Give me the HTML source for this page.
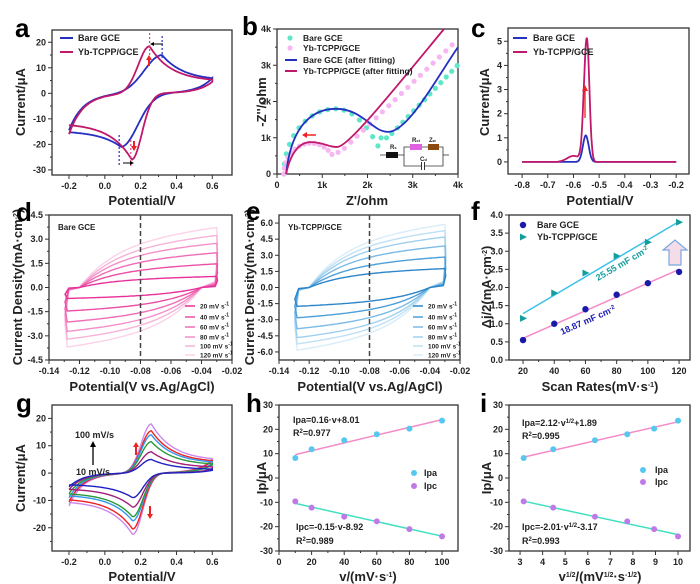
<!DOCTYPE html>
<html><head><meta charset="utf-8"><style>
body{margin:0;background:#fff;}
svg{display:block;font-family:"Liberation Sans",sans-serif;font-weight:bold;}
</style></head><body>
<svg id="s" width="700" height="584" viewBox="0 0 700 584" xmlns="http://www.w3.org/2000/svg"></svg>
<script>
const S=document.getElementById('s');let H='';
function P(b,xr,yr){return{b,X:v=>b[0]+(v-xr[0])/(xr[1]-xr[0])*(b[2]-b[0]),Y:v=>b[3]-(v-yr[0])/(yr[1]-yr[0])*(b[3]-b[1])};}
function T(x,y,t,o){o=o||{};let s=o.s||10;if(s===12)s=13;H+=`<text x="${x}" y="${y}" font-size="${s}" fill="${o.c||'#222'}" text-anchor="${o.a||'start'}" ${o.r?`transform="rotate(${o.r} ${x} ${y})"`:''}>${t}</text>`;}
function axes(p,xt,yt,xl,yl,xmin,ymin){const b=p.b;
 H+=`<rect x="${b[0]}" y="${b[1]}" width="${b[2]-b[0]}" height="${b[3]-b[1]}" fill="none" stroke="#333" stroke-width="1.3"/>`;
 xt.forEach((v,i)=>{const x=p.X(v);H+=`<line x1="${x}" y1="${b[3]}" x2="${x}" y2="${b[3]+4}" stroke="#333"/>`;T(x,b[3]+14,xl[i],{a:'middle',s:9});});
 yt.forEach((v,i)=>{const y=p.Y(v);H+=`<line x1="${b[0]}" y1="${y}" x2="${b[0]-4}" y2="${y}" stroke="#333"/>`;T(b[0]-6,y+3,yl[i],{a:'end',s:9});});
 (xmin||[]).forEach(v=>{const x=p.X(v);H+=`<line x1="${x}" y1="${b[3]}" x2="${x}" y2="${b[3]+2}" stroke="#333"/>`;});
 (ymin||[]).forEach(v=>{const y=p.Y(v);H+=`<line x1="${b[0]}" y1="${y}" x2="${b[0]-2}" y2="${y}" stroke="#333"/>`;});
}
function path(p,pts,c,w,extra){H+=`<path d="M${pts.map(q=>p.X(q[0]).toFixed(1)+','+p.Y(q[1]).toFixed(1)).join('L')}" fill="none" stroke="${c}" stroke-width="${w||1.6}" ${extra||''}/>`;}
function rng(a,b,n){const r=[];for(let i=0;i<=n;i++)r.push(a+(b-a)*i/n);return r;}
function g1(E,Ep,w1,w2,pl){return E<Ep?Math.exp(-(((E-Ep)/w1)**2)):pl+(1-pl)*Math.exp(-(E-Ep)/w2);}
function g2(E,Ep,w1,w2,pl){return E>Ep?Math.exp(-(((E-Ep)/w1)**2)):pl+(1-pl)*Math.exp(-(Ep-E)/w2);}
function cv(p,c,st,ip,Epa,wa,pa,en,iq,Epc,wc,pc,w){
 const f=rng(-0.2,0.6,120).map(E=>[E,st*Math.exp(-(E+0.2)/0.08)+ip*g1(E,Epa,wa,0.12,pa)]);
 const r=rng(0.6,-0.2,120).map(E=>[E,en*Math.exp(-(0.6-E)/0.08)-iq*g2(E,Epc,wc,0.12,pc)]);
 path(p,f.concat(r),c,w||1.8);
}
// ---------- a
let pa=P([52,30,232,175],[-0.295,0.71],[-32,24.8]);
axes(pa,[-0.2,0,0.2,0.4,0.6],[-30,-20,-10,0,10,20],['-0.2','0.0','0.2','0.4','0.6'],['-30','-20','-10','0','10','20'],[-0.1,0.1,0.3,0.5],[-25,-15,-5,5,15]);
cv(pa,'#2530c0',-14.5,15,0.32,0.14,0.33,6,21,0.09,0.13,0.7);
cv(pa,'#c0186a',-16,18.5,0.25,0.09,0.25,4.5,26,0.15,0.08,0.45);
[[0.32,'#2530c0',36,60],[0.25,'#e0408a',33,60],[0.08,'#2530c0',135,167],[0.145,'#e0408a',140,167]].forEach(q=>{const x=pa.X(q[0]);H+=`<line x1="${x}" y1="${q[2]}" x2="${x}" y2="${q[3]}" stroke="${q[1]}" stroke-dasharray="2,2" stroke-width="1.2"/>`;});
H+=`<line x1="163" y1="44" x2="152" y2="44" stroke="#000"/><path d="M150,44l4,-2v4z"/><line x1="123" y1="163" x2="132" y2="163" stroke="#000"/><path d="M134,163l-4,-2v4z"/>`;
H+=`<line x1="149" y1="66" x2="149" y2="58" stroke="#e22" stroke-width="2"/><path d="M149,55l-3,5h6z" fill="#e22"/><line x1="134" y1="141" x2="134" y2="147" stroke="#e22" stroke-width="2"/><path d="M134,151l-3,-5h6z" fill="#e22"/>`;
H+=`<line x1="60" y1="38" x2="73" y2="38" stroke="#2530c0" stroke-width="2"/><line x1="60" y1="52" x2="73" y2="52" stroke="#c0186a" stroke-width="2"/>`;
T(78,41,'Bare GCE',{s:9});T(78,55,'Yb-TCPP/GCE',{s:9});
T(142,205,'Potential/V',{a:'middle',s:12});T(25,102,'Current/μA',{a:'middle',s:12,r:-90});T(15,37,'a',{s:26,c:'#000'});
// ---------- b
let pb=P([277,29,458,174],[0,4],[0,4]);
axes(pb,[0,1,2,3,4],[0,1,2,3,4],['0','1k','2k','3k','4k'],['0','1k','2k','3k','4k'],[0.5,1.5,2.5,3.5],[0.5,1.5,2.5,3.5]);
function bez(p,d,c,w){H+=`<path d="${d.replace(/(-?[\d.]+),(-?[\d.]+)/g,(m,a,b)=>p.X(+a).toFixed(1)+','+p.Y(+b).toFixed(1))}" fill="none" stroke="${c}" stroke-width="${w}"/>`;}
function dots(p,pts,c){pts.forEach(q=>{H+=`<circle cx="${p.X(q[0]).toFixed(1)}" cy="${p.Y(q[1]).toFixed(1)}" r="2.6" fill="${c}"/>`;});}
let cy=[],pk=[];
for(let t=0;t<=1.0001;t+=0.05){const a=Math.PI*t;cy.push([1.3-1.15*Math.cos(a),1.8*Math.sin(a)*(t<0.5?1:0.35+0.65*Math.sin(a))]);}
cy=cy.filter(q=>q[0]<2.3);
for(let x=2.3;x<=4.01;x+=0.12)cy.push([x,1.0+Math.max(0,x-2.45)*1.3]);
dots(pb,cy,'#5fe8c8');
for(let t=0;t<=1.0001;t+=0.06){const a=Math.PI*t;pk.push([0.75-0.6*Math.cos(a),0.85*Math.sin(a)]);}
pk=pk.filter(q=>q[0]<1.25);
for(let x=1.35;x<=4.01;x+=0.14)pk.push([x,0.6+Math.max(0,x-1.4)*1.2]);
dots(pb,pk,'#f6b6f2');
bez(pb,'M0.2,0 C0.3,1.2 0.7,1.8 1.3,1.8 C1.9,1.8 2.1,1.16 2.45,1.16 C2.9,1.16 3.5,2.6 4,3.5','#2530c0',1.8);
bez(pb,'M0.2,0 C0.3,0.6 0.5,0.88 0.75,0.88 C1.05,0.88 1.15,0.72 1.35,0.75 C1.6,0.8 2.5,2.2 3.69,4','#c0186a',1.8);
H+=`<line x1="316" y1="135" x2="306" y2="135" stroke="#e22" stroke-width="1.5"/><path d="M302,135l5,-3v6z" fill="#e22"/>`;
H+=`<circle cx="290" cy="38" r="2.6" fill="#5fe8c8"/><circle cx="290" cy="48" r="2.6" fill="#f6b6f2"/>`;
H+=`<line x1="285" y1="60" x2="297" y2="60" stroke="#2530c0" stroke-width="2"/><line x1="285" y1="71" x2="297" y2="71" stroke="#c0186a" stroke-width="2"/>`;
T(303,41,'Bare GCE',{s:8.5});T(303,51,'Yb-TCPP/GCE',{s:8.5});T(303,63,'Bare GCE (after fitting)',{s:8.5});T(303,74,'Yb-TCPP/GCE (after fitting)',{s:8.5});
H+=`<g stroke="#333" stroke-width="0.8" fill="none"><line x1="380" y1="155" x2="404" y2="155"/><line x1="443" y1="155" x2="449" y2="155"/><polyline points="404,155 404,147 443,147 443,155 443,166 404,166 404,155"/></g>
<rect x="386" y="152" width="12" height="6" fill="#111"/><rect x="410" y="144" width="12" height="6" fill="#e060e0"/><rect x="428" y="144" width="11" height="6" fill="#8a4a10"/>
<rect x="421" y="162" width="4" height="8" fill="#fff"/><line x1="421.5" y1="162" x2="421.5" y2="170" stroke="#333"/><line x1="424.5" y1="162" x2="424.5" y2="170" stroke="#333"/>`;
T(390,149,'R<tspan font-size="4">s</tspan>',{s:6});T(412,142,'R<tspan font-size="4">ct</tspan>',{s:6});T(429,142,'Z<tspan font-size="4">w</tspan>',{s:6});T(420,161,'C<tspan font-size="4">d</tspan>',{s:6});
T(367,205,"Z'/ohm",{a:'middle',s:12});T(266,102,"-Z''/ohm",{a:'middle',s:12,r:-90});T(242,35,'b',{s:26,c:'#000'});
// ---------- c
let pc=P([508,28,689,174],[-0.855,-0.15],[-0.5,5.55]);
axes(pc,rng(-0.8,-0.2,6),[0,1,2,3,4,5],['-0.8','-0.7','-0.6','-0.5','-0.4','-0.3','-0.2'],['0','1','2','3','4','5'],[],[0.5,1.5,2.5,3.5,4.5]);
path(pc,rng(-0.8,-0.2,300).map(E=>[E,1.1*Math.exp(-(((E+0.552)/0.016)**2))]),'#2530c0',1.8);
path(pc,rng(-0.8,-0.2,300).map(E=>[E,5.15*Math.exp(-(((E+0.548)/(E<-0.548?0.016:0.014))**2))+(E>-0.66&&E<-0.55?0.25*Math.exp(-(((E+0.6)/0.035)**2)):0)]),'#c0186a',1.8);
H+=`<line x1="585" y1="118" x2="585" y2="90" stroke="#e22" stroke-width="1.3"/><path d="M585,85l-3,6h6z" fill="#e22"/>`;
H+=`<line x1="513" y1="38" x2="527" y2="38" stroke="#2530c0" stroke-width="2"/><line x1="513" y1="52" x2="527" y2="52" stroke="#c0186a" stroke-width="2"/>`;
T(533,41,'Bare GCE',{s:9});T(533,55,'Yb-TCPP/GCE',{s:9});
T(600,205,'Potential/V',{a:'middle',s:12});T(489,102,'Current/μA',{a:'middle',s:12,r:-90});T(471,37,'c',{s:26,c:'#000'});
// ---------- d / e
function hh(x){return 0.75*(1-Math.exp(-(x+0.12)/0.025))+0.25*(x+0.12)/0.09;}
function loop(p,T0,c,w){const up=rng(-0.12,-0.03,60).map(x=>[x,T0*hh(x)]);
 const dn=rng(-0.04,-0.128,60).map(x=>[x,-T0*hh(-0.16-x)]);
 const pts=[[-0.12,0]].concat(up,[[-0.0295,T0*0.6],[-0.031,T0*0.1]],dn,[[-0.1295,-T0*0.6],[-0.127,-T0*0.05],[-0.12,0]]);
 path(p,pts,c,w||1.4);}
let pd=P([49,215,232,360],[-0.14,-0.02],[-4.5,4.5]);
axes(pd,rng(-0.14,-0.02,6),rng(-4.5,4.5,6),['-0.14','-0.12','-0.10','-0.08','-0.06','-0.04','-0.02'],['-4.5','-3.0','-1.5','0.0','1.5','3.0','4.5'],rng(-0.13,-0.03,5),rng(-3.75,3.75,5));
const pcol=['#fbd2e8','#f7b3d8','#f38fc8','#ef6cb6','#eb4ea6','#e8309a'],Tv=[3.8,3.3,2.8,2.2,1.5,0.7];
Tv.forEach((t,i)=>loop(pd,t,pcol[i]));
H+=`<line x1="${pd.X(-0.08)}" y1="215" x2="${pd.X(-0.08)}" y2="360" stroke="#444" stroke-width="1.5" stroke-dasharray="5,3"/>`;
T(58,230,'Bare GCE',{s:8});
const ly=[306,317,327,337,346,355],lt=['20','40','60','80','100','120'].map(s=>s+' mV s<tspan dy="-3" font-size="5">-1</tspan>');
ly.forEach((y,i)=>{H+=`<line x1="185" y1="${y}" x2="195" y2="${y}" stroke="${pcol[5-i]}" stroke-width="1.5"/>`;T(200,y+2.5,lt[i],{s:6.5});});
T(142,391,'Potential(V vs.Ag/AgCl)',{a:'middle',s:12});T(22,287,'Current Density(mA·cm<tspan dy="-4" font-size="7">-2</tspan><tspan dy="4">)</tspan>',{a:'middle',s:12,r:-90});T(16,221,'d',{s:26,c:'#000'});
let pe=P([279,215,460,360],[-0.14,-0.02],[-6.75,6.75]);
axes(pe,rng(-0.14,-0.02,6),rng(-6,6,8),['-0.14','-0.12','-0.10','-0.08','-0.06','-0.04','-0.02'],['-6.0','-4.5','-3.0','-1.5','0.0','1.5','3.0','4.5','6.0'],rng(-0.13,-0.03,5),[]);
const bcol=['#d8edf9','#bfe0f5','#a0d0ef','#7bbbe6','#4d9fd9','#2a85c9'],Te=[6.0,5.4,4.8,3.95,2.9,1.8];
Te.forEach((t,i)=>loop(pe,t,bcol[i]));
H+=`<line x1="${pe.X(-0.08)}" y1="215" x2="${pe.X(-0.08)}" y2="360" stroke="#444" stroke-width="1.5" stroke-dasharray="5,3"/>`;
T(288,230,'Yb-TCPP/GCE',{s:8});
ly.forEach((y,i)=>{H+=`<line x1="413" y1="${y}" x2="423" y2="${y}" stroke="${bcol[5-i]}" stroke-width="1.5"/>`;T(428,y+2.5,lt[i],{s:6.5});});
T(370,391,'Potential(V vs.Ag/AgCl)',{a:'middle',s:12});T(254,287,'Current Density(mA·cm<tspan dy="-4" font-size="7">-2</tspan><tspan dy="4">)</tspan>',{a:'middle',s:12,r:-90});T(246,220,'e',{s:26,c:'#000'});
// ---------- f
let pf=P([509,215,690,360],[11,127],[0,4]);
axes(pf,[20,40,60,80,100,120],rng(0,4,8),['20','40','60','80','100','120'],['0.0','0.5','1.0','1.5','2.0','2.5','3.0','3.5','4.0'],[30,50,70,90,110],[]);
path(pf,[[20,0.6],[120,2.5]],'#f58ac8',1.5);path(pf,[[20,1.28],[120,3.82]],'#3cc0ea',1.5);
[[20,0.55],[40,1.0],[60,1.4],[80,1.8],[100,2.12],[120,2.43]].forEach(q=>H+=`<circle cx="${pf.X(q[0])}" cy="${pf.Y(q[1])}" r="3.2" fill="#1a1aa8"/>`);
[[20,1.15],[40,1.85],[60,2.4],[80,2.87],[100,3.25],[120,3.8]].forEach(q=>{const x=pf.X(q[0]),y=pf.Y(q[1]);H+=`<path d="M${x-3},${y-3.5}L${x+4},${y}L${x-3},${y+3.5}z" fill="#139e9e"/>`;});
H+=`<circle cx="523" cy="225" r="3.2" fill="#1a1aa8"/><path d="M520,233.5L527,237L520,240.5z" fill="#139e9e"/>`;
T(537,228,'Bare GCE',{s:9});T(537,240,'Yb-TCPP/GCE',{s:9});
T(598,281,'25.55 mF cm<tspan dy="-3" font-size="6">-2</tspan>',{s:9,c:'#139e9e',r:-30});T(562,335,'18.87 mF cm<tspan dy="-3" font-size="6">-2</tspan>',{s:9,c:'#2020b0',r:-24});
H+=`<path d="M669,265V250H663L675,240L687,250H681V265Z" fill="#f4dce8" stroke="#7aa8e0" stroke-width="1.2"/>`;
T(600,391,'Scan Rates(mV·s<tspan dy="-4" font-size="7">-1</tspan><tspan dy="4">)</tspan>',{a:'middle',s:12});T(491,287,'Δj/2(mA·cm<tspan dy="-4" font-size="7">-2</tspan><tspan dy="4">)</tspan>',{a:'middle',s:12,r:-90});T(471,220,'f',{s:26,c:'#000'});
// ---------- g
let pg=P([52,405,232,551],[-0.295,0.71],[-28.5,24.9]);
axes(pg,[-0.2,0,0.2,0.4,0.6],[-20,-10,0,10,20],['-0.2','0.0','0.2','0.4','0.6'],['-20','-10','0','10','20'],[-0.1,0.1,0.3,0.5],[-25,-15,-5,5,15]);
const gc=['#cc88ee','#ee2222','#3399ee','#2a9a3a','#a0207a','#2020c0'],gp=[18,15.5,14,11.5,7.8,5],gq=[22.5,20.5,17.5,16,12.5,9],gs=[-12,-10.5,-9,-7.5,-6,-5],ge=[5,4.5,3.5,3,1.5,1];
gc.forEach((c,i)=>cv(pg,c,gs[i],gp[i],0.26,0.08,0.25,ge[i],gq[i],0.155,0.08,0.45,1.4));
T(75,438,'100 mV/s',{s:9});H+=`<line x1="93" y1="465" x2="93" y2="446" stroke="#000" stroke-width="1.3"/><path d="M93,441l-3,6h6z"/>`;T(76,475,'10 mV/s',{s:9});
H+=`<line x1="136" y1="455" x2="136" y2="446" stroke="#e22" stroke-width="2"/><path d="M136,442l-3,5h6z" fill="#e22"/><line x1="150" y1="506" x2="150" y2="515" stroke="#e22" stroke-width="2"/><path d="M150,519l-3,-5h6z" fill="#e22"/>`;
T(142,581,'Potential/V',{a:'middle',s:12});T(25,478,'Current/μA',{a:'middle',s:12,r:-90});T(16,412,'g',{s:26,c:'#000'});
// ---------- h, i
function lin(p,xs,a,b,c){path(p,[[xs[0],a*xs[0]+b],[xs[1],a*xs[1]+b]],c,1.5);}
function pts2(p,xs,ys,c){xs.forEach((x,i)=>H+=`<circle cx="${p.X(x)}" cy="${p.Y(ys[i])}" r="3" fill="${c}"/>`);}
const ipa=[8.2,11.8,15.5,18,20.3,23.6],ipc=[-9.6,-12.2,-15.9,-17.8,-21,-24];
let ph=P([279,405,458,551],[0,109.8],[-30,30]);
axes(ph,[0,20,40,60,80,100],[-30,-20,-10,0,10,20,30],['0','20','40','60','80','100'],['-30','-20','-10','0','10','20','30'],[10,30,50,70,90],[-25,-15,-5,5,15,25]);
lin(ph,[10,100],0.16,8.01,'#f58ac8');lin(ph,[10,100],-0.15,-8.92,'#40e0c0');
const vx=[10,20,40,60,80,100];pts2(ph,vx,ipa,'#56c8f0');pts2(ph,vx,ipc,'#c07ae8');
T(293,423,'Ipa=0.16·v+8.01',{s:9});T(293,436,'R<tspan dy="-3" font-size="6">2</tspan><tspan dy="3">=0.977</tspan>',{s:9});
T(296,530,'Ipc=-0.15·v-8.92',{s:9});T(296,544,'R<tspan dy="-3" font-size="6">2</tspan><tspan dy="3">=0.989</tspan>',{s:9});
H+=`<circle cx="414" cy="473" r="3" fill="#56c8f0"/><circle cx="414" cy="486" r="3" fill="#c07ae8"/>`;T(424,476,'Ipa',{s:9});T(424,489,'Ipc',{s:9});
T(368,581,'v/(mV·s<tspan dy="-4" font-size="7">-1</tspan><tspan dy="4">)</tspan>',{a:'middle',s:12});T(266,478,'Ip/μA',{a:'middle',s:12,r:-90});T(246,412,'h',{s:26,c:'#000'});
let pi=P([509,405,690,551],[2.51,10.53],[-30,30]);
axes(pi,[3,4,5,6,7,8,9,10],[-30,-20,-10,0,10,20,30],['3','4','5','6','7','8','9','10'],['-30','-20','-10','0','10','20','30'],[],[-25,-15,-5,5,15,25]);
lin(pi,[3.16,10],2.12,1.89,'#f58ac8');lin(pi,[3.16,10],-2.01,-3.17,'#40e0c0');
const sx=[3.16,4.47,6.32,7.75,8.94,10];pts2(pi,sx,ipa,'#56c8f0');pts2(pi,sx,ipc,'#c07ae8');
T(522,426,'Ipa=2.12·v<tspan dy="-3" font-size="6">1/2</tspan><tspan dy="3">+1.89</tspan>',{s:9});T(522,439,'R<tspan dy="-3" font-size="6">2</tspan><tspan dy="3">=0.995</tspan>',{s:9});
T(522,530,'Ipc=-2.01·v<tspan dy="-3" font-size="6">1/2</tspan><tspan dy="3">-3.17</tspan>',{s:9});T(522,544,'R<tspan dy="-3" font-size="6">2</tspan><tspan dy="3">=0.993</tspan>',{s:9});
H+=`<circle cx="643" cy="470" r="3" fill="#56c8f0"/><circle cx="643" cy="482" r="3" fill="#c07ae8"/>`;T(655,473,'Ipa',{s:9});T(655,485,'Ipc',{s:9});
T(600,581,'v<tspan dy="-4" font-size="7">1/2</tspan><tspan dy="4">/(mV</tspan><tspan dy="-4" font-size="7">1/2</tspan><tspan dy="4">·s</tspan><tspan dy="-4" font-size="7">-1/2</tspan><tspan dy="4">)</tspan>',{a:'middle',s:12});T(491,478,'Ip/μA',{a:'middle',s:12,r:-90});T(480,412,'i',{s:26,c:'#000'});
S.innerHTML=H;
</script>
</body></html>
